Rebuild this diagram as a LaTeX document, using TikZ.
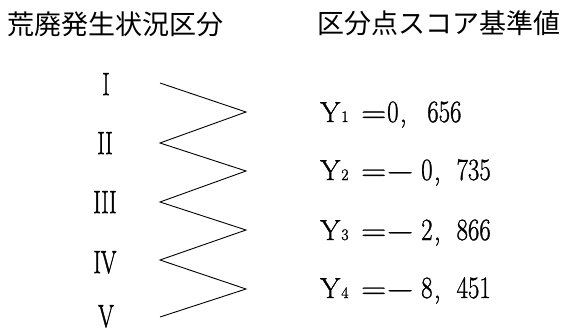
\documentclass[tikz,border=0pt]{standalone}
\usepackage{fontspec}
\usepackage{graphicx}
\newfontfamily\jpfont{Noto Sans CJK JP}
\newfontfamily\heavyrm{Latin Modern Roman}[FakeBold=1.2]
\newfontfamily\romrm{Latin Modern Roman}[FakeBold=1.8]
\tikzset{
  title/.style={inner sep=0pt, font=\jpfont\fontsize{27}{27}\selectfont},
  roman/.style={inner sep=0pt, anchor=base, font=\romrm\fontsize{32}{32}\selectfont},
  val/.style={inner sep=0pt, anchor=base west, font=\heavyrm\fontsize{29}{29}\selectfont},
  zig/.style={line width=0.9pt, black}
}
\newcommand{\rnum}[1]{\scalebox{0.7}[1]{#1}}
\newcommand{\cdig}[1]{{\fontsize{31}{31}\selectfont\scalebox{0.8}[1]{#1}}}
\newcommand{\ylab}[1]{\makebox[42pt][l]{Y\kern1pt{\fontsize{16}{16}\selectfont #1}}%
  \makebox[23pt][c]{\scalebox{1.2}[1]{=}}}
\newcommand{\myneg}{\makebox[30pt][c]{\scalebox{1.25}[1]{−}}}
\begin{document}
\begin{tikzpicture}[x=1pt,y=-1pt]
\useasboundingbox (0,0) rectangle (567,332);
\node[title] (t1) at (115,24) {荒廃発生状況区分};
\node[title] (t2) at (438.5,23) {区分点スコア基準値};
\node[roman] (r1) at (106,95) {\rnum{I}};
\node[roman] (r2) at (105,154) {\rnum{II}};
\node[roman] (r3) at (105,213) {\rnum{III}};
\node[roman] (r4) at (105,273) {\rnum{IV}};
\node[roman] (r5) at (106,327) {\rnum{V}};
\coordinate (z0) at (160,83);
\coordinate (z1) at (246,112);
\coordinate (z2) at (160,143);
\coordinate (z3) at (246,171);
\coordinate (z4) at (160,202);
\coordinate (z5) at (246,230);
\coordinate (z6) at (160,260);
\coordinate (z7) at (246,289);
\coordinate (z8) at (160,317);
\draw[zig] (z0) -- (z1) -- (z2) -- (z3) -- (z4) -- (z5) -- (z6) -- (z7) -- (z8);
\node[val] (y1) at (320,122) {\ylab{1}\kern2pt\cdig{0}\makebox[28.7pt][l]{\kern1pt,}\cdig{656}};
\node[val] (y2) at (320,180) {\ylab{2}\myneg\kern6pt\cdig{0}\makebox[24pt][l]{\kern1pt,}\cdig{735}};
\node[val] (y3) at (320,240) {\ylab{3}\myneg\kern6pt\cdig{2}\makebox[24pt][l]{\kern1pt,}\cdig{866}};
\node[val] (y4) at (320,298) {\ylab{4}\myneg\kern6pt\cdig{8}\makebox[24pt][l]{\kern1pt,}\cdig{451}};
\end{tikzpicture}
\end{document}
